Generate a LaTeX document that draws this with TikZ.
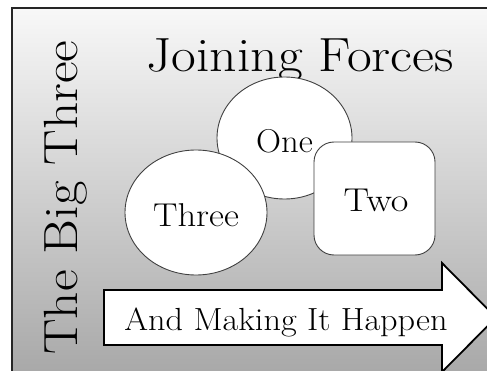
\documentclass[tikz,border=0pt]{standalone}
\usepackage{graphicx}
\usetikzlibrary{shapes.geometric}
\definecolor{frametop}{HTML}{F8F8F8}
\definecolor{framebot}{HTML}{A8A8A8}
\definecolor{shapeline}{HTML}{404040}
\newcommand{\wide}[2]{\scalebox{#1}[1]{#2}}
\tikzset{
  bubble/.style={ellipse, draw=shapeline, line width=0.9pt, fill=white, inner sep=0pt},
  boxshape/.style={rectangle, rounded corners=20pt, draw=shapeline, line width=0.9pt, fill=white, inner sep=0pt},
  label33/.style={font=\fontsize{33}{38}\selectfont},
  bigtext/.style={font=\fontsize{48}{56}\selectfont},
}
\begin{document}
\begin{tikzpicture}[x=1pt,y=1pt]
\useasboundingbox (0,0) rectangle (487,370);
\clip (0,0) rectangle (487,370);
\fill[white] (0,0) rectangle (487,370);
% background frame
\shade[top color=frametop, bottom color=framebot] (11.5,-5) rectangle (495,362);
\draw[line width=2pt, black!85] (11.5,-5) -- (11.5,362) -- (495,362);
% titles
\node[bigtext, anchor=base] (title) at (300,298) {\wide{1.12}{Joining Forces}};
\node[bigtext, anchor=base, rotate=90] (side) at (77,172.5) {\wide{1.11}{The Big Three}};
% shapes
\node[bubble, minimum width=135pt, minimum height=122pt] (one) at (284.5,232) {};
\node[label33] at (284.5,229) (onet) {\wide{1.05}{One}};
\node[bubble, minimum width=142pt, minimum height=125pt] (three) at (196,157.5) {};
\node[label33] at (196,155) (threet) {\wide{1.11}{Three}};
\node[boxshape, minimum width=121pt, minimum height=113pt] (two) at (374.5,171.5) {};
\node[label33] at (376,170) (twot) {\wide{1.16}{Two}};
% arrow
\draw[line width=1.8pt, black, fill=white, line join=miter]
  (104,80) coordinate (a1) -- (442,80) -- (442,107) -- (496,52.5) coordinate (tip) -- (442,-2) -- (442,25) -- (104,25) -- cycle;
\node[font=\fontsize{32}{36}\selectfont, anchor=base] (arrowtext) at (286,40) {\wide{1.07}{And Making It Happen}};
\end{tikzpicture}
\end{document}
